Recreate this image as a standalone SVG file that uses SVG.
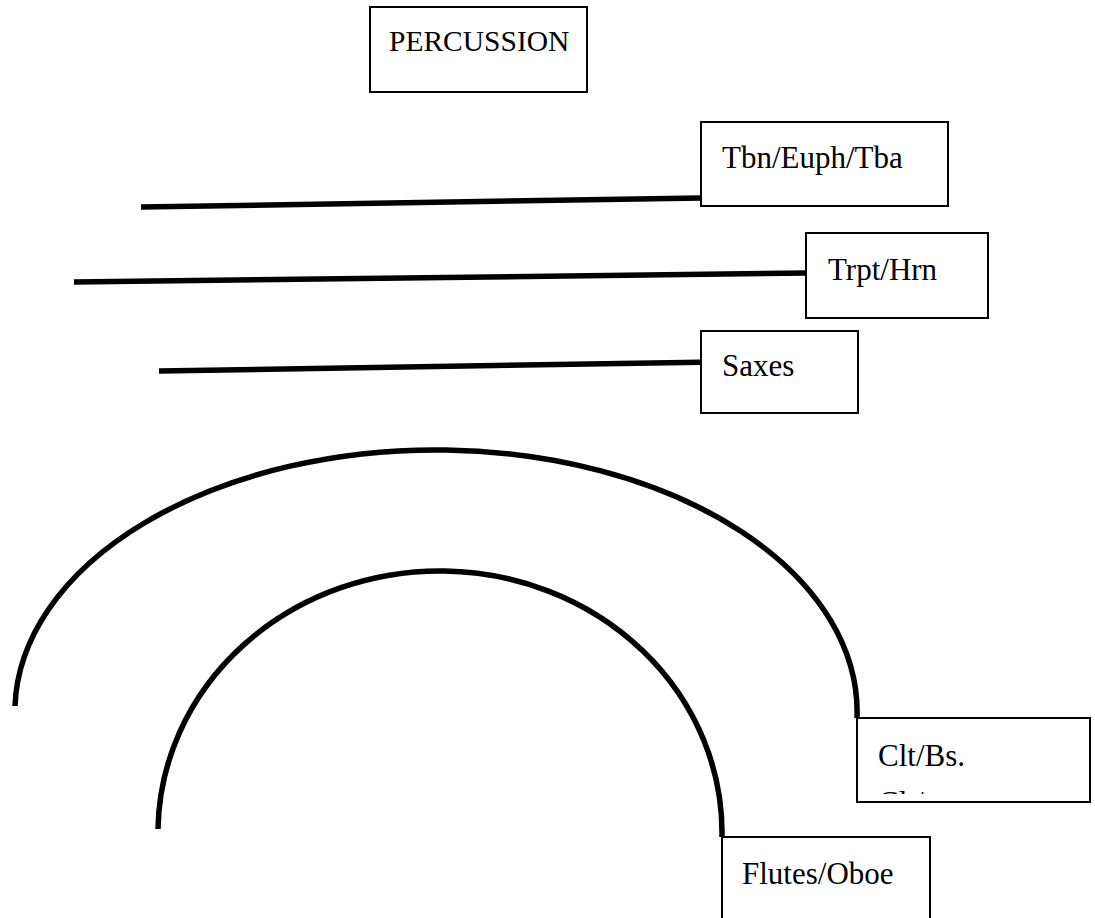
<svg xmlns="http://www.w3.org/2000/svg" width="1095" height="918" viewBox="0 0 1095 918">
<defs>
<style>
.box{fill:#fff;stroke:#000;stroke-width:2}
.lbl{font-family:"Liberation Serif","Times New Roman",serif;font-size:31px;fill:#000}
.ln{stroke:#000;stroke-width:5.5;fill:none}
</style>
<clipPath id="cltclip"><rect x="858" y="790" width="230" height="4"/></clipPath>
</defs>
<rect width="1095" height="918" fill="#fff"/>
<g id="connectors">
<line class="ln" x1="141" y1="207" x2="701" y2="198"/>
<line class="ln" x1="74" y1="282" x2="807" y2="273"/>
<line class="ln" x1="159" y1="371" x2="716" y2="362"/>
<path class="ln" d="M 15 706 A 421 262 0 0 1 857 718"/>
<path class="ln" d="M 158 829 A 282 262 0 0 1 722 837"/>
</g>
<g id="percussion"><rect class="box" x="370" y="7" width="217" height="85"/><text class="lbl" x="389" y="51" style="font-size:29.5px">PERCUSSION</text></g>
<g id="tbn"><rect class="box" x="701" y="122" width="247" height="84"/><text class="lbl" x="722" y="168">Tbn/Euph/Tba</text></g>
<g id="trpt"><rect class="box" x="806" y="233" width="182" height="85"/><text class="lbl" x="828" y="280">Trpt/Hrn</text></g>
<g id="saxes"><rect class="box" x="701" y="331" width="157" height="82"/><text class="lbl" x="722" y="376">Saxes</text></g>
<g id="clt"><rect class="box" x="857" y="718" width="233" height="84"/><text class="lbl" x="878" y="766">Clt/Bs.</text><text class="lbl" x="878" y="813" clip-path="url(#cltclip)">Cl /</text></g>
<g id="flutes"><rect class="box" x="722" y="837" width="208" height="90"/><text class="lbl" x="742" y="884">Flutes/Oboe</text></g>
</svg>
